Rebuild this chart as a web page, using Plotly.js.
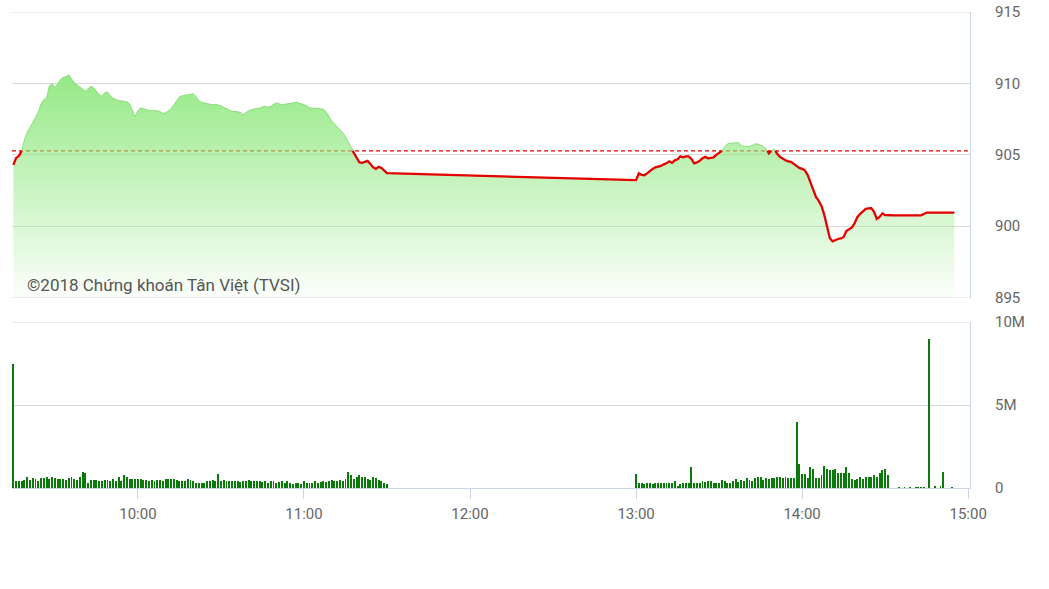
<!DOCTYPE html>
<html>
<head>
<meta charset="utf-8">
<script src="https://cdn.plot.ly/plotly-3.0.1.min.js"></script>
<style>html,body{margin:0;padding:0;background:#fff;}#chart{width:1049px;height:589px;}</style>
</head>
<body>
<div id="chart"></div>
<script>
// ---- data ----
const DAY = '2018-06-01';
const morningStart = '09:15';   // one value per minute
const afternoonStart = '13:00'; // one value per minute
const referencePrice = 905.27;

const morningPrice = [
 904.29, 904.78, 904.92, 905.27, 906.04, 906.6, 906.89, 907.24, 907.55, 908.0,
 908.57, 908.85, 908.99, 909.83, 909.97, 909.69, 909.97, 910.25, 910.43, 910.46,
 910.6, 910.32, 910.04, 909.9, 909.76, 909.62, 909.45, 909.62, 909.8, 909.69,
 909.45, 909.2, 909.1, 909.34, 909.41, 909.13, 908.96, 908.85, 908.78, 908.78,
 908.74, 908.71, 908.57, 908.08, 907.66, 908.08, 908.29, 908.22, 908.15, 908.11,
 908.08, 908.08, 908.08, 908.01, 907.9, 907.94, 908.08, 908.22, 908.5, 908.74,
 909.06, 909.13, 909.17, 909.17, 909.24, 909.27, 909.06, 908.78, 908.67, 908.64,
 908.57, 908.53, 908.5, 908.53, 908.5, 908.43, 908.32, 908.22, 908.15, 908.04,
 908.04, 908.01, 907.97, 907.8, 907.94, 908.08, 908.15, 908.22, 908.25, 908.25,
 908.36, 908.39, 908.32, 908.39, 908.5, 908.64, 908.57, 908.5, 908.53, 908.57,
 908.57, 908.64, 908.67, 908.64, 908.57, 908.53, 908.43, 908.29, 908.25, 908.25,
 908.25, 908.22, 908.18, 908.01, 907.66, 907.38, 907.17, 906.96, 906.82, 906.54,
 906.26, 905.9, 905.48, 905.13, 904.78, 904.47, 904.43, 904.5, 904.57, 904.36,
 904.12, 904.01, 904.15, 904.08, 903.87, 903.71
];
const afternoonPrice = [
 903.22, 903.69, 903.59, 903.56, 903.69, 903.87, 904.01, 904.12, 904.15, 904.22,
 904.33, 904.4, 904.54, 904.43, 904.61, 904.68, 904.89, 904.82, 904.89, 904.89,
 904.71, 904.4, 904.47, 904.57, 904.75, 904.85, 904.75, 904.78, 904.82, 904.99,
 905.1, 905.27, 905.55, 905.76, 905.8, 905.8, 905.87, 905.83, 905.66, 905.59,
 905.59, 905.59, 905.66, 905.76, 905.76, 905.69, 905.59, 905.41, 905.1, 905.31,
 905.38, 905.06, 904.85, 904.71, 904.61, 904.54, 904.5, 904.36, 904.22, 904.08,
 904.01, 903.91, 903.59, 903.03, 902.54, 902.05, 901.77, 901.42, 900.79, 900.01,
 899.17, 898.93, 899.03, 899.1, 899.14, 899.24, 899.66, 899.8, 899.91, 900.22,
 900.64, 900.86, 901.03, 901.21, 901.24, 901.26, 901.0, 900.5, 900.64, 900.89,
 900.78, 900.76, 900.76, 900.76, 900.76, 900.76, 900.76, 900.76, 900.76, 900.76,
 900.76, 900.76, 900.76, 900.76, 900.85, 900.95, 900.95, 900.95, 900.95, 900.95,
 900.95, 900.95, 900.95, 900.95, 900.95, 900.95
];
// volumes in millions of shares
const morningVolume = [
 7.5, 0.44, 0.44, 0.44, 0.50, 0.64, 0.50, 0.60, 0.56, 0.44,
 0.60, 0.60, 0.64, 0.56, 0.64, 0.60, 0.56, 0.52, 0.56, 0.50,
 0.60, 0.64, 0.56, 0.50, 0.64, 0.96, 0.88, 0.30, 0.46, 0.46,
 0.46, 0.44, 0.40, 0.48, 0.48, 0.40, 0.56, 0.44, 0.64, 0.40,
 0.76, 0.68, 0.56, 0.52, 0.52, 0.52, 0.52, 0.48, 0.50, 0.44,
 0.48, 0.44, 0.46, 0.48, 0.44, 0.52, 0.52, 0.52, 0.52, 0.46,
 0.44, 0.44, 0.44, 0.52, 0.48, 0.40, 0.32, 0.32, 0.32, 0.32,
 0.40, 0.44, 0.48, 0.44, 0.84, 0.40, 0.48, 0.44, 0.40, 0.40,
 0.44, 0.40, 0.36, 0.40, 0.40, 0.48, 0.40, 0.44, 0.44, 0.44,
 0.36, 0.40, 0.32, 0.44, 0.40, 0.28, 0.36, 0.44, 0.28, 0.40,
 0.28, 0.24, 0.32, 0.28, 0.24, 0.40, 0.32, 0.28, 0.32, 0.40,
 0.32, 0.36, 0.40, 0.36, 0.44, 0.48, 0.40, 0.40, 0.48, 0.44,
 0.52, 0.96, 0.80, 0.56, 0.68, 0.76, 0.64, 0.64, 0.56, 0.48,
 0.68, 0.60, 0.48, 0.40, 0.28, 0.24
];
const afternoonVolume = [
 0.84, 0.32, 0.28, 0.24, 0.32, 0.28, 0.24, 0.28, 0.32, 0.28,
 0.32, 0.28, 0.32, 0.28, 0.40, 0.12, 0.24, 0.28, 0.32, 0.32,
 1.28, 0.28, 0.32, 0.32, 0.44, 0.36, 0.40, 0.40, 0.32, 0.28,
 0.32, 0.48, 0.44, 0.32, 0.32, 0.40, 0.56, 0.36, 0.48, 0.44,
 0.60, 0.48, 0.44, 0.60, 0.64, 0.64, 0.48, 0.60, 0.56, 0.60,
 0.60, 0.64, 0.64, 0.60, 0.64, 0.60, 0.60, 0.60, 3.95, 1.44,
 0.84, 0.84, 0.60, 1.24, 1.16, 0.60, 0.60, 0.76, 1.32, 1.16,
 1.08, 1.08, 1.16, 0.88, 0.88, 0.88, 1.24, 0.88, 0.52, 0.48,
 0.56, 0.64, 0.56, 0.64, 0.64, 0.64, 0.76, 0.68, 0.92, 1.08,
 1.16, 0.80, 0, 0, 0, 0.04, 0, 0.04, 0, 0.04,
 0, 0.04, 0.04, 0.04, 0.04, 0, 8.97, 0, 0.12, 0.02,
 0.14, 0.96, 0, 0, 0.03, 0
];
const priceTicks = [895, 900, 905, 910, 915];
const volumeTicks = [0, 5, 10];
const volumeTickText = ['0', '5M', '10M'];
const timeTicks = ['10:00', '11:00', '12:00', '13:00', '14:00', '15:00'];
const xRange = ['09:14:30', '15:00:40'];
const watermark = '©2018 Chứng khoán Tân Việt (TVSI)';

// ---- helpers ----
const base = Date.UTC(2018, 5, 1);
function hmToMin(s) { const p = s.split(':').map(Number); return p[0]*60 + p[1] + (p[2]||0)/60; }
function minToMs(m) { return base + m*60000; }
const mStart = hmToMin(morningStart), aStart = hmToMin(afternoonStart);
const tMin = [], price = [];
morningPrice.forEach((v,i)=>{ tMin.push(mStart+i); price.push(v); });
afternoonPrice.forEach((v,i)=>{ tMin.push(aStart+i); price.push(v); });
const vMin = [], vVal = [];
morningVolume.forEach((v,i)=>{ vMin.push(mStart+i); vVal.push(v*1e6); });
afternoonVolume.forEach((v,i)=>{ vMin.push(aStart+i); vVal.push(v*1e6); });

// red line: only the parts at or below the reference price
const redX = [], redY = [];
for (let i=0;i<tMin.length;i++){
  if (i>0 && (price[i-1]-referencePrice)*(price[i]-referencePrice) < 0){
    const t = (referencePrice-price[i-1])/(price[i]-price[i-1]);
    redX.push(minToMs(tMin[i-1] + t*(tMin[i]-tMin[i-1]))); redY.push(referencePrice);
  }
  redX.push(minToMs(tMin[i])); redY.push(price[i] <= referencePrice ? price[i] : null);
}

const xs = tMin.map(minToMs);
const pMax = Math.max(...price);
const range = xRange.map(s=>minToMs(hmToMin(s)));
const tickV = timeTicks.map(s=>minToMs(hmToMin(s)));
const GRID = '#d9d9d9';

const traces = [
  { x: xs, y: price, type:'scatter', mode:'lines', fill:'tozeroy',
    line:{color:'rgba(128,222,112,0.9)', width:1},
    fillgradient:{type:'vertical', start:895, stop:pMax,
      colorscale:[[0,'rgba(144,232,128,0.03)'],[1,'rgba(144,232,128,0.95)']]},
    hoverinfo:'skip', xaxis:'x', yaxis:'y' },
  { x: redX, y: redY, type:'scatter', mode:'lines', connectgaps:false,
    line:{color:'#e60000', width:2.3}, hoverinfo:'skip', xaxis:'x', yaxis:'y' },
  { x: vMin.map(minToMs), y: vVal, type:'bar', width:42000,
    marker:{color:'#0a7a0a', line:{width:0}}, hoverinfo:'skip', xaxis:'x2', yaxis:'y2' }
];

// edge grid lines (Plotly omits grid lines at the very ends of a range)
const edgeLines = [
  {yref:'y', y:priceTicks[0]},
  {yref:'y', y:priceTicks[priceTicks.length-1]},
  {yref:'y2', y:volumeTicks[volumeTicks.length-1]*1e6}
].map(e=>({type:'line', xref:'paper', x0:0, x1:1, yref:e.yref, y0:e.y, y1:e.y,
           line:{color:GRID, width:1}, layer:'below'}));

const layout = {
  width:1049, height:589,
  margin:{l:12, r:79, t:12, b:101},
  paper_bgcolor:'#ffffff', plot_bgcolor:'#ffffff',
  showlegend:false, bargap:0,
  font:{family:'Roboto, sans-serif', size:15, color:'#666666'},
  xaxis:{type:'date', range:range, anchor:'y', showticklabels:false, showgrid:false,
         zeroline:false, showline:false, ticks:''},
  yaxis:{domain:[0.4002,1], range:[895,915], side:'right', tickvals:priceTicks,
         gridcolor:GRID, gridwidth:1, showline:true, linecolor:'#ccd6eb', linewidth:1,
         ticks:'', ticklabelstandoff:21, zeroline:false},
  xaxis2:{type:'date', range:range, anchor:'y2', tickvals:tickV, tickformat:'%H:%M',
          ticks:'outside', ticklen:10, tickcolor:'#ccd6eb', tickwidth:1,
          showline:true, linecolor:'#ccd6eb', linewidth:1, showgrid:false, zeroline:false,
          ticklabelstandoff:2},
  yaxis2:{domain:[0,0.3487], range:[0,1e7], side:'right', anchor:'x2',
          tickvals:volumeTicks.map(v=>v*1e6), ticktext:volumeTickText,
          gridcolor:GRID, showline:true, linecolor:'#ccd6eb', linewidth:1,
          ticks:'', ticklabelstandoff:21, zeroline:false},
  shapes: edgeLines.concat([{type:'line', xref:'paper', x0:0, x1:1, yref:'y',
           y0:referencePrice, y1:referencePrice,
           line:{color:'#e60000', width:1.2, dash:'4px,3px'}, layer:'between'}]),
  annotations:[{text:watermark, xref:'paper', yref:'paper', x:0.0135, y:0.4265,
                xanchor:'left', yanchor:'middle', showarrow:false,
                font:{family:'Roboto, sans-serif', size:17, color:'#555555'}}]
};

Plotly.newPlot('chart', traces, layout, {displayModeBar:false, staticPlot:true});
</script>
</body>
</html>
